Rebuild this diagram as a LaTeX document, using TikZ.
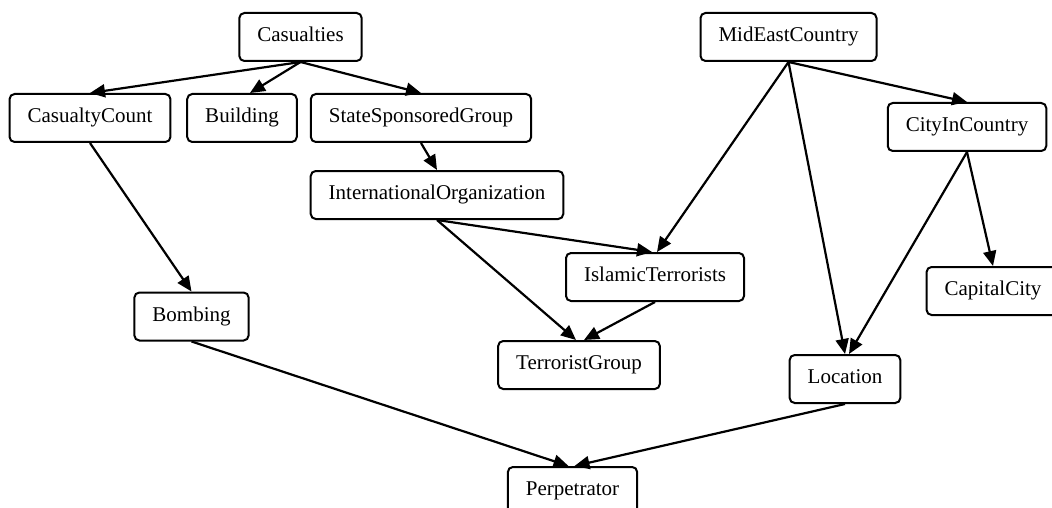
\documentclass[tikz,border=0pt]{standalone}
\usepackage{fontspec}
\setmainfont{Liberation Serif}
\usetikzlibrary{arrows.meta}

\begin{document}
\begin{tikzpicture}[
  x=1pt, y=-1pt,
  every node/.style={font=\fontsize{21}{25}\selectfont},
  box/.style={draw, line width=2pt, rounded corners=5pt,
    minimum height=48pt, inner xsep=18pt, inner ysep=0pt,
    text height=14pt, text depth=4.5pt},
  link/.style={line width=2.2pt, -{Triangle[length=15pt,width=13pt]}}]
  \useasboundingbox (0,0) rectangle (1052,508);
  \clip (0,0) rectangle (1052,508);
  % 左半部分
  \node[box] (cas)    at (300.5,37)  {Casualties};
  \node[box] (ccount) at (90,118)    {CasualtyCount};
  \node[box] (bldg)   at (242,118)   {Building};
  \node[box] (ssg)    at (421,118)   {StateSponsoredGroup};
  \node[box] (intorg) at (437,195)   {InternationalOrganization};
  \node[box] (bomb)   at (191.5,316.5) {Bombing};
  \node[box] (tgroup) at (579,365)   {TerroristGroup};
  \node[box] (perp)   at (572.5,491) {Perpetrator};
  % 右半部分
  \node[box] (mideast) at (788.5,37) {MidEastCountry};
  \node[box] (city)    at (967,127)  {CityInCountry};
  \node[box] (islamic) at (655,277)  {IslamicTerrorists};
  \node[box] (capital) at (993,291)  {CapitalCity};
  \node[box] (loc)     at (845,379)  {Location};
  \draw[link] (cas.south) -- (ccount.north);
  \draw[link] (cas.south) -- ([xshift=8pt]bldg.north);
  \draw[link] (cas.south) -- (ssg.north);
  \draw[link] (ssg.south) -- (intorg.north);
  \draw[link] (ccount.south) -- (bomb.north);
  \draw[link] (intorg.south) -- ([xshift=-3pt]islamic.north);
  \draw[link] (intorg.south) -- ([xshift=-3pt]tgroup.north);
  \draw[link] (islamic.south) -- ([xshift=5pt]tgroup.north);
  \draw[link] (mideast.south) -- ([xshift=2pt]islamic.north);
  \draw[link] (mideast.south) -- (loc.north);
  \draw[link] (mideast.south) -- (city.north);
  \draw[link] (city.south) -- ([xshift=4pt]loc.north);
  \draw[link] (city.south) -- (capital.north);
  \draw[link] (bomb.south) -- ([xshift=-4pt]perp.north);
  \draw[link] (loc.south) -- ([xshift=2pt]perp.north);
\end{tikzpicture}
\end{document}
